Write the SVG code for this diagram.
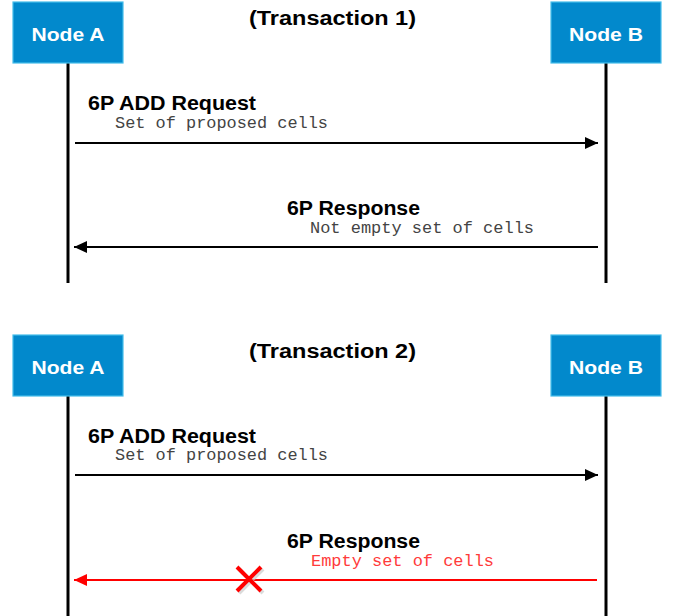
<svg xmlns="http://www.w3.org/2000/svg" width="675" height="616" viewBox="0 0 675 616">
  <style>
    .node rect { fill: #0289cc; stroke: #45bdea; stroke-width: 1.2; }
    .node text { fill: #ffffff; font-family: "Liberation Sans", Arial, sans-serif; font-weight: bold; font-size: 19px; text-anchor: middle; }
    .life { stroke: #000; stroke-width: 3; }
    .msg { stroke: #000; stroke-width: 2; fill: none; }
    .msg.lost { stroke: #ff0000; }
    .title { font-family: "Liberation Sans", Arial, sans-serif; font-weight: bold; font-size: 20px; fill: #000; }
    .label { font-family: "Liberation Sans", Arial, sans-serif; font-weight: bold; font-size: 19.5px; fill: #000; }
    .param { font-family: "Liberation Mono", "Courier New", monospace; font-size: 16px; fill: #444; }
    .param.lost { fill: #ff3b3b; }
  </style>
  <defs>
    <marker id="arrow" viewBox="0 0 13 12" refX="13" refY="6" markerWidth="13" markerHeight="12" markerUnits="userSpaceOnUse" orient="auto">
      <path d="M0,0 L13,6 L0,12 Z" fill="#000"/>
    </marker>
    <marker id="arrowRed" viewBox="0 0 13 12" refX="13" refY="6" markerWidth="13" markerHeight="12" markerUnits="userSpaceOnUse" orient="auto">
      <path d="M0,0 L13,6 L0,12 Z" fill="#ff0000"/>
    </marker>
  </defs>

  <!-- Transaction 1 -->
  <text class="title" x="249" y="25" textLength="167" lengthAdjust="spacingAndGlyphs">(Transaction 1)</text>
  <g id="lifelines1">
    <line class="life" x1="68" y1="63" x2="68" y2="283"/>
    <line class="life" x1="606" y1="63" x2="606" y2="283"/>
  </g>
  <g id="nodeA1" class="node">
    <rect x="13" y="2" width="110" height="61"/>
    <text x="68" y="41" textLength="73" lengthAdjust="spacingAndGlyphs">Node A</text>
  </g>
  <g id="nodeB1" class="node">
    <rect x="551" y="2" width="110" height="61"/>
    <text x="606" y="41" textLength="74" lengthAdjust="spacingAndGlyphs">Node B</text>
  </g>
  <g id="connectors1">
    <line class="msg" x1="75" y1="143" x2="598" y2="143" marker-end="url(#arrow)"/>
    <text class="label" x="88" y="110" textLength="168" lengthAdjust="spacingAndGlyphs">6P ADD Request</text>
    <text class="param" x="115" y="128" textLength="213" lengthAdjust="spacingAndGlyphs">Set of proposed cells</text>
    <line class="msg" x1="598" y1="247" x2="74" y2="247" marker-end="url(#arrow)"/>
    <text class="label" x="287" y="215" textLength="133" lengthAdjust="spacingAndGlyphs">6P Response</text>
    <text class="param" x="310" y="233" textLength="224" lengthAdjust="spacingAndGlyphs">Not empty set of cells</text>
  </g>

  <!-- Transaction 2 -->
  <text class="title" x="249" y="358" textLength="167" lengthAdjust="spacingAndGlyphs">(Transaction 2)</text>
  <g id="lifelines2">
    <line class="life" x1="68" y1="396" x2="68" y2="616"/>
    <line class="life" x1="606" y1="396" x2="606" y2="616"/>
  </g>
  <g id="nodeA2" class="node">
    <rect x="13" y="335" width="110" height="61"/>
    <text x="68" y="374" textLength="73" lengthAdjust="spacingAndGlyphs">Node A</text>
  </g>
  <g id="nodeB2" class="node">
    <rect x="551" y="335" width="110" height="61"/>
    <text x="606" y="374" textLength="74" lengthAdjust="spacingAndGlyphs">Node B</text>
  </g>
  <g id="connectors2">
    <line class="msg" x1="75" y1="475" x2="598" y2="475" marker-end="url(#arrow)"/>
    <text class="label" x="88" y="443" textLength="168" lengthAdjust="spacingAndGlyphs">6P ADD Request</text>
    <text class="param" x="115" y="460" textLength="213" lengthAdjust="spacingAndGlyphs">Set of proposed cells</text>
    <line class="msg lost" x1="597" y1="580" x2="74" y2="580" marker-end="url(#arrowRed)"/>
    <text class="label" x="287" y="548" textLength="133" lengthAdjust="spacingAndGlyphs">6P Response</text>
    <text class="param lost" x="311" y="566" textLength="183" lengthAdjust="spacingAndGlyphs">Empty set of cells</text>
    <!-- lost-message cross with soft shadow -->
    <g id="lostMark">
      <path d="M239,569 L263,593 M263,569 L239,593" stroke="#cccccc" stroke-width="4" opacity="0.7"/>
      <path d="M237,567 L261,591 M261,567 L237,591" stroke="#ff0000" stroke-width="4"/>
    </g>
  </g>
</svg>
